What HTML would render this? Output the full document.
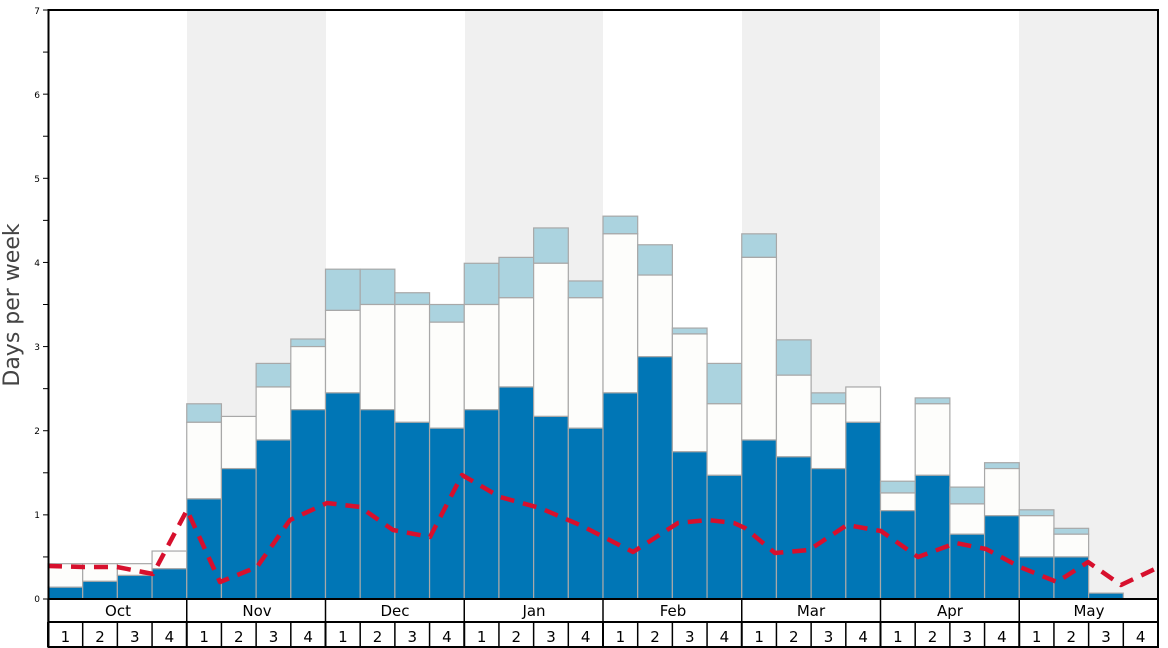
<!DOCTYPE html>
<html><head><meta charset="utf-8"><style>
html,body{margin:0;padding:0;background:#fff;width:1168px;height:648px;overflow:hidden}
svg{display:block;font-family:"DejaVu Sans","Liberation Sans",sans-serif}
</style></head><body>
<svg id="s" width="1168" height="648" viewBox="0 0 1168 648" xmlns="http://www.w3.org/2000/svg">
<rect x="0" y="0" width="1168" height="648" fill="#fff"/>
<g id="bands" fill="#f0f0f0">
<rect x="187" y="10" width="139" height="589"/>
<rect x="465" y="10" width="138" height="589"/>
<rect x="742" y="10" width="138" height="589"/>
<rect x="1019" y="10" width="139" height="589"/>
</g>
<g id="bars"></g>
<polyline fill="none" stroke="#d7102d" stroke-width="4.5" stroke-dasharray="14,9" stroke-linejoin="round"
points="48,566 83,567 117,567 153,574 187,510 220,582 257,567 290,520 327,503 360,507 393,530 430,537 462,475 500,497 540,508 580,525 633,552 678,523 708,520 734,523 745,528 775,553 809,550 847,525 881,531 918,557 956,543 986,549 1020,567 1057,582 1088,562 1121,585 1159,567"/>
<g stroke="#000" stroke-width="2" fill="none">
<rect x="48.5" y="10" width="1109.5" height="637"/>
<line x1="48" y1="599" x2="1158" y2="599"/>
<line x1="48" y1="622" x2="1158" y2="622"/>
</g>
<g id="ticks" stroke="#000" stroke-width="1"></g>
<g font-size="9" fill="#000" text-anchor="end">
<text x="40" y="602">0</text><text x="40" y="518">1</text><text x="40" y="434">2</text><text x="40" y="350">3</text><text x="40" y="266">4</text><text x="40" y="182">5</text><text x="40" y="98">6</text><text x="40" y="14">7</text>
</g>
<text transform="translate(19,305) rotate(-90)" font-size="22" fill="#444" text-anchor="middle">Days per week</text>
<g font-size="15" fill="#000" text-anchor="middle">
<text x="118" y="616">Oct</text><text x="257" y="616">Nov</text><text x="395" y="616">Dec</text><text x="534" y="616">Jan</text>
<text x="673" y="616">Feb</text><text x="811" y="616">Mar</text><text x="950" y="616">Apr</text><text x="1089" y="616">May</text>
</g>
<g id="wk" font-size="15" fill="#000" text-anchor="middle"></g>
</svg>
<script>
var d=[[0.14,0.42,0],[0.21,0.42,0],[0.28,0.42,0],[0.36,0.57,0],
[1.19,2.1,2.32],[1.55,2.17,0],[1.89,2.52,2.8],[2.25,3.0,3.09],
[2.45,3.43,3.92],[2.25,3.5,3.92],[2.1,3.5,3.64],[2.03,3.29,3.5],
[2.25,3.5,3.99],[2.52,3.58,4.06],[2.17,3.99,4.41],[2.03,3.58,3.78],
[2.45,4.34,4.55],[2.88,3.85,4.21],[1.75,3.15,3.22],[1.47,2.32,2.8],
[1.89,4.06,4.34],[1.69,2.66,3.08],[1.55,2.32,2.45],[2.1,2.52,0],
[1.05,1.26,1.4],[1.47,2.32,2.39],[0.77,1.13,1.33],[0.99,1.55,1.62],
[0.5,0.99,1.06],[0.5,0.77,0.84],[0.07,0,0],[0,0,0]];
var NS="http://www.w3.org/2000/svg",w=1110/32,Y=function(v){return 599-v*84.14};
var g=document.getElementById('bars'),t=document.getElementById('ticks'),wk=document.getElementById('wk');
function r(x,y1,y2,f){if(y2-y1<=0)return;var e=document.createElementNS(NS,'rect');e.setAttribute('x',x);e.setAttribute('y',y1);e.setAttribute('width',w);e.setAttribute('height',y2-y1);e.setAttribute('fill',f);e.setAttribute('stroke','#a8a8a8');e.setAttribute('stroke-width','1.2');g.appendChild(e);}
function l(x1,y1,x2,y2,p,sw){var e=document.createElementNS(NS,'line');e.setAttribute('x1',x1);e.setAttribute('y1',y1);e.setAttribute('x2',x2);e.setAttribute('y2',y2);if(sw)e.setAttribute('stroke-width',sw);p.appendChild(e);}
for(var i=0;i<32;i++){var x=48+i*w,b=d[i];
 if(b[2])r(x,Y(b[2]),Y(b[1]),'#abd3df');
 if(b[1])r(x,Y(b[1]),Y(b[0]),'#fdfdfb');
 if(b[0])r(x,Y(b[0]),599,'#0076b6');
 var tx=document.createElementNS(NS,'text');tx.setAttribute('x',x+w/2);tx.setAttribute('y',642);tx.textContent=(i%4)+1;wk.appendChild(tx);
 l(x,622,x,647,t,(i%4==0)?2:1.5);
 if(i%4==0)l(x,599,x,622,t,1.5);
}
for(var k=0;k<=14;k++)l(43,Y(k/2),48,Y(k/2),t,1);
</script>
</body></html>
